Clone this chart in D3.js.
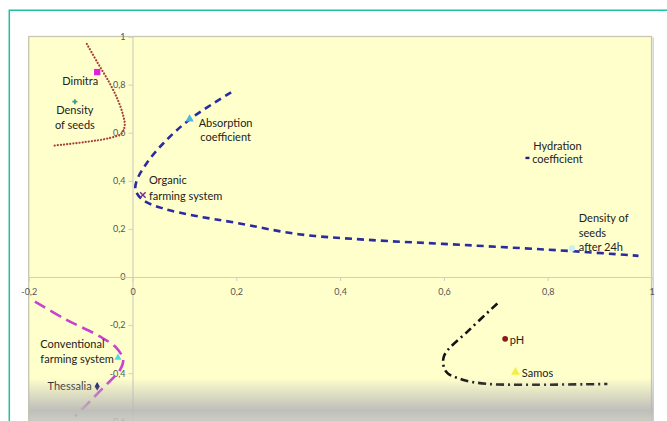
<!DOCTYPE html>
<html>
<head>
<meta charset="utf-8">
<script src="https://cdn.jsdelivr.net/npm/d3@7"></script>
<style>
  html, body { margin: 0; padding: 0; background: #fff; }
  svg { display: block; font-family: Lato, "Open Sans", sans-serif; }
</style>
</head>
<body>
<div id="chart"></div>
<script>
// axis ticks
const xTicks = [-0.2, 0, 0.2, 0.4, 0.6, 0.8, 1];
const yTicks = [-0.6, -0.4, -0.2, 0, 0.2, 0.4, 0.6, 0.8, 1];

// labelled points
const pointNames = ["Dimitra", "Density of seeds", "Absorption coefficient", "Organic farming system",
                    "Hydration coefficient", "Density of seeds after 24h", "Conventional farming system",
                    "Thessalia", "pH", "Samos"];
const pointX = [-0.068, -0.111, 0.110, 0.020, 0.761, 0.847, -0.028, -0.068, 0.718, 0.738];
const pointY = [0.852, 0.729, 0.657, 0.341, 0.495, 0.119, -0.335, -0.455, -0.257, -0.396];

// curves
const brownX = [-0.088, -0.067, -0.044, -0.028, -0.018, -0.015, -0.021, -0.044, -0.092, -0.153];
const brownY = [0.969, 0.89, 0.806, 0.735, 0.672, 0.632, 0.597, 0.578, 0.561, 0.546];
const blueX = [0.19, 0.110, 0.059, 0.027, 0.008, 0.006, 0.020, 0.059, 0.12, 0.2, 0.32, 0.45, 0.64, 0.85, 0.975];
const blueY = [0.768, 0.655, 0.555, 0.472, 0.40, 0.36, 0.32, 0.285, 0.255, 0.225, 0.178, 0.155, 0.133, 0.107, 0.088];
const magentaX = [-0.188, -0.127, -0.063, -0.031, -0.018, -0.024, -0.057, -0.111];
const magentaY = [-0.102, -0.178, -0.247, -0.295, -0.344, -0.386, -0.462, -0.58];
const blackX = [0.703, 0.649, 0.60, 0.604, 0.636, 0.681, 0.75, 0.915];
const blackY = [-0.11, -0.22, -0.33, -0.393, -0.427, -0.444, -0.448, -0.445];

// marker looks and label placement (pixels from the marker)
const markers = [
    {shape: d3.symbolSquare, size: 40, fill: "#e020e0"},
    {shape: d3.symbolCross, size: 14, fill: "#3a9a8a"},
    {shape: d3.symbolTriangle, size: 30, fill: "#4fb4e6"},
    {shape: d3.symbolX, size: 22, fill: "none", stroke: "#7a2a8a"},
    {shape: d3.symbolSquare, size: 8, fill: "#20207a", rect: true},
    {shape: d3.symbolCircle, size: 30, fill: "#c8f0ee"},
    {shape: d3.symbolTriangle, size: 22, fill: "#50dcdc"},
    {shape: d3.symbolDiamond, size: 22, fill: "#101060"},
    {shape: d3.symbolCircle, size: 26, fill: "#8a1a1a"},
    {shape: d3.symbolTriangle, size: 34, fill: "#f0f040"}
];
const labels = [
    {lines: ["Dimitra"], anchor: "end", dx: 1, dy: 8.5, lh: 15},
    {lines: ["Density", "of seeds"], anchor: "middle", dx: 0, dy: 7.6, lh: 15},
    {lines: ["Absorption", "coefficient"], anchor: "middle", dx: 36, dy: 3.3, lh: 14},
    {lines: ["Organic", "farming system"], anchor: "start", dx: 6, dy: -15.5, lh: 16},
    {lines: ["Hydration", "coefficient"], anchor: "middle", dx: 30, dy: -12.7, lh: 13.5},
    {lines: ["Density of", "seeds", "after 24h"], anchor: "start", dx: 6.7, dy: -30.6, lh: 14.5},
    {lines: ["Conventional", "farming system"], anchor: "start", dx: -77.6, dy: -14.4, lh: 15.7},
    {lines: ["Thessalia"], anchor: "end", dx: -5.6, dy: -0.7, lh: 15},
    {lines: ["pH"], anchor: "start", dx: 4.7, dy: 1, lh: 15},
    {lines: ["Samos"], anchor: "start", dx: 6.3, dy: 0.7, lh: 15}
];

const width = 667, height = 421;
const plotLeft = 28.7, plotRight = 651.5, plotTop = 36.5, plotBottom = 421.3;

const svg = d3.select("#chart").append("svg")
    .attr("width", width)
    .attr("height", height);

// teal frame
svg.append("path")
    .attr("d", `M9.3,${height + 2} L9.3,10.3 L${width + 2},10.3`)
    .attr("fill", "none")
    .attr("stroke", "#1fbf9f")
    .attr("stroke-width", 1.5);

const x = d3.scaleLinear().domain([-0.2, 1]).range([plotLeft, plotRight]);
const y = d3.scaleLinear().domain([-0.6, 1]).range([plotBottom, plotTop]);

// plot area
svg.append("rect")
    .attr("x", plotRight + 1)
    .attr("y", plotTop + 1)
    .attr("width", 1.5)
    .attr("height", plotBottom - plotTop)
    .attr("fill", "#d6d6d0");
svg.append("rect")
    .attr("x", plotLeft)
    .attr("y", plotTop)
    .attr("width", plotRight - plotLeft)
    .attr("height", plotBottom - plotTop)
    .attr("fill", "#ffffcc")
    .attr("stroke", "#c6c6b2")
    .attr("stroke-width", 1.3);

const fmt = d3.formatLocale({decimal: ",", thousands: ".", grouping: [3], currency: ["", ""], minus: "-"}).format(".1~f");

const yAxis = svg.append("g")
    .attr("transform", `translate(${x(0)},0)`)
    .call(d3.axisLeft(y).tickValues(yTicks).tickSize(4).tickPadding(3).tickFormat(fmt));
const xAxis = svg.append("g")
    .attr("transform", `translate(0,${y(0)})`)
    .call(d3.axisBottom(x).tickValues(xTicks).tickSize(4).tickPadding(8).tickFormat(fmt));

[xAxis, yAxis].forEach(g => {
    g.select(".domain").attr("stroke", "#cfcfc0").attr("stroke-width", 1.2);
    g.selectAll(".tick line").attr("stroke", "#cfcfc0");
    g.selectAll(".tick text")
        .attr("fill", "#555")
        .style("font-size", "9px")
        .style("font-family", "Lato, 'Open Sans', sans-serif");
});

// curves
const line = d3.line()
    .x(d => x(d[0]))
    .y(d => y(d[1]))
    .curve(d3.curveCatmullRom.alpha(0.5));

const curves = [
    {xs: brownX, ys: brownY, color: "#a8403a", width: 2.2, dash: "0.1,3", cap: "round"},
    {xs: blueX, ys: blueY, color: "#2a2aa2", width: 2.6, dash: "7,5", cap: "butt"},
    {xs: magentaX, ys: magentaY, color: "#c844d0", width: 2.6, dash: "12,6", cap: "butt"},
    {xs: blackX, ys: blackY, color: "#141414", width: 2.6, dash: "8,4,2,4", cap: "butt"}
];
svg.selectAll(".curve")
    .data(curves)
    .enter()
    .append("path")
    .attr("class", "curve")
    .attr("d", c => line(c.xs.map((v, i) => [v, c.ys[i]])))
    .attr("fill", "none")
    .attr("stroke", c => c.color)
    .attr("stroke-width", c => c.width)
    .attr("stroke-dasharray", c => c.dash)
    .attr("stroke-linecap", c => c.cap);

// points
const pts = pointNames.map((n, i) => ({name: n, x: pointX[i], y: pointY[i], m: markers[i], l: labels[i]}));

const pg = svg.selectAll(".pt")
    .data(pts)
    .enter()
    .append("g")
    .attr("class", "pt")
    .attr("transform", d => `translate(${x(d.x)},${y(d.y)})`);

pg.filter(d => !d.m.rect)
    .append("path")
    .attr("d", d => d3.symbol().type(d.m.shape).size(d.m.size)())
    .attr("fill", d => d.m.fill)
    .attr("stroke", d => d.m.stroke || "none")
    .attr("stroke-width", 1.4);
pg.filter(d => d.m.rect)
    .append("rect")
    .attr("x", -2).attr("y", -1.2)
    .attr("width", 4).attr("height", 2.4)
    .attr("fill", d => d.m.fill);

pg.each(function(d) {
    const t = d3.select(this).append("text")
        .attr("text-anchor", d.l.anchor)
        .attr("fill", "#222")
        .style("font-size", "11px");
    d.l.lines.forEach((s, k) => {
        t.append("tspan")
            .attr("x", d.l.dx)
            .attr("y", d.l.dy + k * d.l.lh)
            .attr("dominant-baseline", "central")
            .text(s);
    });
});

// greyish fade at the bottom of the photo
const defs = svg.append("defs");
const grad = defs.append("linearGradient")
    .attr("id", "fade")
    .attr("x1", 0).attr("y1", 0).attr("x2", 0).attr("y2", 1);
grad.append("stop").attr("offset", "0%").attr("stop-color", "#b8b8b8").attr("stop-opacity", 0);
grad.append("stop").attr("offset", "45%").attr("stop-color", "#b8b8b8").attr("stop-opacity", 0.55);
grad.append("stop").attr("offset", "75%").attr("stop-color", "#b8b8b8").attr("stop-opacity", 0.9);
grad.append("stop").attr("offset", "100%").attr("stop-color", "#c4c4c4").attr("stop-opacity", 0.85);

svg.append("rect")
    .attr("x", plotLeft)
    .attr("y", 378)
    .attr("width", plotRight - plotLeft + 2)
    .attr("height", height - 378)
    .attr("fill", "url(#fade)")
    .attr("pointer-events", "none");
</script>
</body>
</html>
